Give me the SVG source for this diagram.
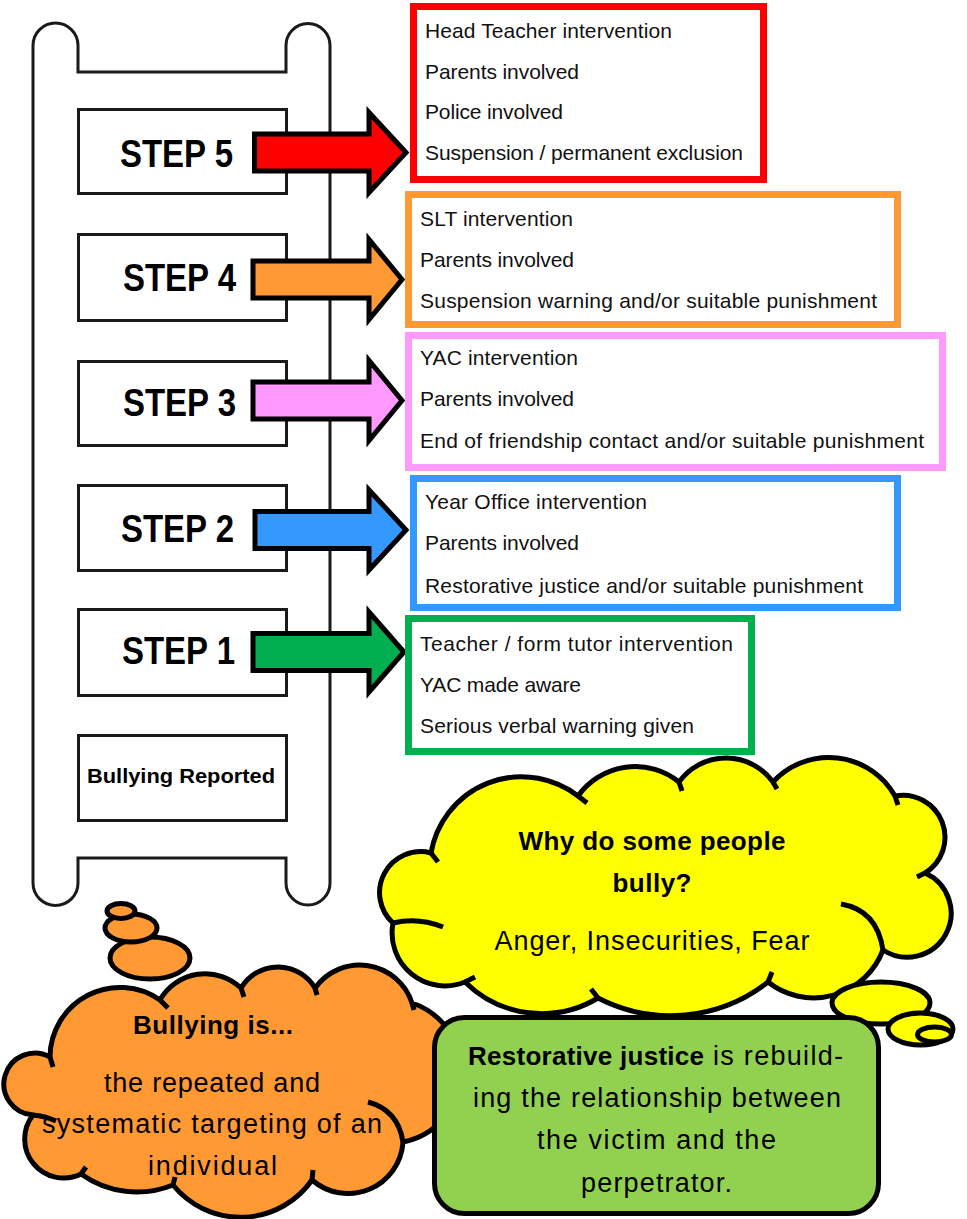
<svg xmlns="http://www.w3.org/2000/svg" width="967" height="1219" viewBox="0 0 967 1219">
<style>
.lad{fill:#fff;stroke:#1a1a1a;stroke-width:3}
.stepbox{fill:#fff;stroke:#1a1a1a;stroke-width:3}
.arrow{stroke:#000;stroke-width:5;stroke-linejoin:miter}
.tbox{fill:#fff;stroke-width:7}
.t{font-family:"Liberation Sans",Arial,sans-serif;font-size:21px;fill:#111}
.st{font-family:"Liberation Sans",Arial,sans-serif;font-size:39px;font-weight:bold;fill:#000}
.br{font-family:"Liberation Sans",Arial,sans-serif;font-size:21px;font-weight:bold;fill:#000}
.cl{stroke:#000;stroke-width:5;stroke-linejoin:round}
.mk{fill:none;stroke:#000;stroke-width:5}
.ct{font-family:"Liberation Sans",Arial,sans-serif;font-size:27px;fill:#000;text-anchor:middle}
.cb{font-family:"Liberation Sans",Arial,sans-serif;font-size:26px;font-weight:bold;fill:#000;text-anchor:middle}
</style>

<g id="ladder">
<path class="lad" d="M33,883 L33,45.5 A22.5,22.5 0 0 1 78,45.5 L78,72 L286,72 L286,45.5 A22,22 0 0 1 330,45.5 L330,883 A22,22 0 0 1 286,883 L286,858 L78,858 L78,883 A22.5,22.5 0 0 1 33,883 Z"/>
</g>

<g id="step5"><rect class="stepbox" x="78.5" y="109.5" width="208" height="84"/><text class="st" x="120" y="167" textLength="113" lengthAdjust="spacingAndGlyphs">STEP 5</text></g>
<g id="step4"><rect class="stepbox" x="78.5" y="234.5" width="208" height="86"/><text class="st" x="123" y="291" textLength="113" lengthAdjust="spacingAndGlyphs">STEP 4</text></g>
<g id="step3"><rect class="stepbox" x="78.5" y="361.5" width="208" height="84"/><text class="st" x="123" y="416" textLength="113" lengthAdjust="spacingAndGlyphs">STEP 3</text></g>
<g id="step2"><rect class="stepbox" x="78.5" y="485.5" width="208" height="85"/><text class="st" x="121" y="542" textLength="113" lengthAdjust="spacingAndGlyphs">STEP 2</text></g>
<g id="step1"><rect class="stepbox" x="78.5" y="609.5" width="208" height="86"/><text class="st" x="122" y="664" textLength="113" lengthAdjust="spacingAndGlyphs">STEP 1</text></g>
<g id="reported"><rect class="stepbox" x="78.5" y="735.5" width="208" height="85"/><text class="br" x="87" y="783" textLength="188" lengthAdjust="spacingAndGlyphs">Bullying Reported</text></g>

<g id="connectors">
<polygon class="arrow" fill="#FF0000" points="254.5,134 369,134 369,112.5 406,152.5 369,192.5 369,171 254.5,171"/>
<polygon class="arrow" fill="#FF9933" points="253,261 369,261 369,239.5 402,279.5 369,319.5 369,298 253,298"/>
<polygon class="arrow" fill="#FF99FF" points="253,382 369,382 369,360.5 402,400.5 369,440.5 369,419 253,419"/>
<polygon class="arrow" fill="#3399FF" points="255,511.5 369,511.5 369,490 406,530 369,570 369,548.5 255,548.5"/>
<polygon class="arrow" fill="#00B050" points="253,633.5 369,633.5 369,612 404,652 369,692 369,670.5 253,670.5"/>
</g>

<g id="box5">
<rect class="tbox" stroke="#FF0000" x="413.5" y="6.5" width="350" height="173"/>
<text class="t" x="425" y="38" textLength="247">Head Teacher intervention</text>
<text class="t" x="425" y="79" textLength="154">Parents involved</text>
<text class="t" x="425" y="119" textLength="138">Police involved</text>
<text class="t" x="425" y="160" textLength="318">Suspension / permanent exclusion</text>
</g>
<g id="box4">
<rect class="tbox" stroke="#FF9933" x="408.5" y="194.5" width="489" height="130"/>
<text class="t" x="420" y="226" textLength="153">SLT intervention</text>
<text class="t" x="420" y="267" textLength="154">Parents involved</text>
<text class="t" x="420" y="308" textLength="457">Suspension warning and/or suitable punishment</text>
</g>
<g id="box3">
<rect class="tbox" stroke="#FF99FF" x="408.5" y="335.5" width="534" height="132"/>
<text class="t" x="420" y="365" textLength="158">YAC intervention</text>
<text class="t" x="420" y="406" textLength="154">Parents involved</text>
<text class="t" x="420" y="448" textLength="504">End of friendship contact and/or suitable punishment</text>
</g>
<g id="box2">
<rect class="tbox" stroke="#3399FF" x="413.5" y="478.5" width="484" height="129"/>
<text class="t" x="425" y="509" textLength="222">Year Office intervention</text>
<text class="t" x="425" y="550" textLength="154">Parents involved</text>
<text class="t" x="425" y="593" textLength="438">Restorative justice and/or suitable punishment</text>
</g>
<g id="box1">
<rect class="tbox" stroke="#00B050" x="408.5" y="618.5" width="343" height="133"/>
<text class="t" x="420" y="651" textLength="313">Teacher / form tutor intervention</text>
<text class="t" x="420" y="692" textLength="161">YAC made aware</text>
<text class="t" x="420" y="733" textLength="274">Serious verbal warning given</text>
</g>

<g id="why-cloud">
<path class="cl" fill="#FFFF00" d="M431,853 A92,92 0 0 1 578,796 A70,70 0 0 1 679,782 A58,58 0 0 1 773,782 A76,76 0 0 1 895,796 A42,42 0 0 1 925,873 A44,44 0 1 1 883,950 A74,74 0 0 1 768,982 A158,158 0 0 1 598,998 A109,109 0 0 1 465,982 A53,53 0 0 1 393,923 A41,41 0 0 1 431,853 Z"/>
<path class="mk" d="M431,853 L438,862 M578,796 L587,803 M679,782 L682,791 M773,782 L777,789 M895,796 L898,805 M925,873 L917,877 M841,904 Q877,910 883,950 M768,982 L772,972 M598,998 L591,989 M465,982 L475,977 M393,923 Q418,917 443,927"/>
<ellipse class="cl" fill="#FFFF00" cx="881" cy="1003" rx="49" ry="21"/>
<ellipse class="cl" fill="#FFFF00" cx="920.5" cy="1029" rx="32.5" ry="16"/>
<ellipse class="cl" fill="#FFFF00" cx="934.5" cy="1034.5" rx="17" ry="7.5"/>
<text class="cb" x="652" y="850" textLength="267">Why do some people</text>
<text class="cb" x="652" y="892" textLength="79">bully?</text>
<text class="ct" x="652" y="950" textLength="315">Anger, Insecurities, Fear</text>
</g>

<g id="bullying-cloud">
<ellipse class="cl" fill="#FF9933" cx="150" cy="958" rx="40" ry="21"/>
<ellipse class="cl" fill="#FF9933" cx="131" cy="928" rx="26" ry="14"/>
<ellipse class="cl" fill="#FF9933" cx="121" cy="911" rx="14" ry="7.5"/>
<path class="cl" fill="#FF9933" d="M50,1057 A70,70 0 0 1 160,1000 A52,52 0 0 1 241,988 A43,43 0 0 1 315,988 A55,55 0 0 1 412,1003 A72,72 0 0 1 403,1142 A55,55 0 0 1 312,1180 A87,87 0 0 1 173,1185 A96,96 0 0 1 81,1174 A39,39 0 0 1 33,1115 A31,31 0 1 1 50,1057 Z"/>
<path class="mk" d="M50,1057 L53,1067 M160,1000 L168,1008 M241,988 L244,997 M315,988 L317,995 M412,1003 L414,1010 M368,1102 Q398,1110 403,1142 M312,1180 L313,1170 M173,1185 L175,1177 M81,1174 L86,1167 M33,1115 Q45,1116 56,1121"/>
<text class="cb" x="213" y="1034" textLength="160">Bullying is...</text>
<text class="ct" x="212" y="1092" textLength="216">the repeated and</text>
<text class="ct" x="212" y="1133" textLength="340">systematic targeting of an</text>
<text class="ct" x="212.5" y="1175" textLength="129">individual</text>
</g>

<g id="restorative-box">
<rect x="434.5" y="1017.5" width="444" height="196" rx="30" ry="30" fill="#92D050" stroke="#000" stroke-width="5"/>
<text x="468" y="1065" font-family="Liberation Sans, Arial, sans-serif" font-size="26" font-weight="bold" textLength="236">Restorative justice</text>
<text x="713" y="1065" font-family="Liberation Sans, Arial, sans-serif" font-size="27" textLength="130">is rebuild-</text>
<text class="ct" x="657" y="1107" textLength="368">ing the relationship between</text>
<text class="ct" x="656.5" y="1149" textLength="239">the victim and the</text>
<text class="ct" x="656.5" y="1192" textLength="151">perpetrator.</text>
</g>
</svg>
